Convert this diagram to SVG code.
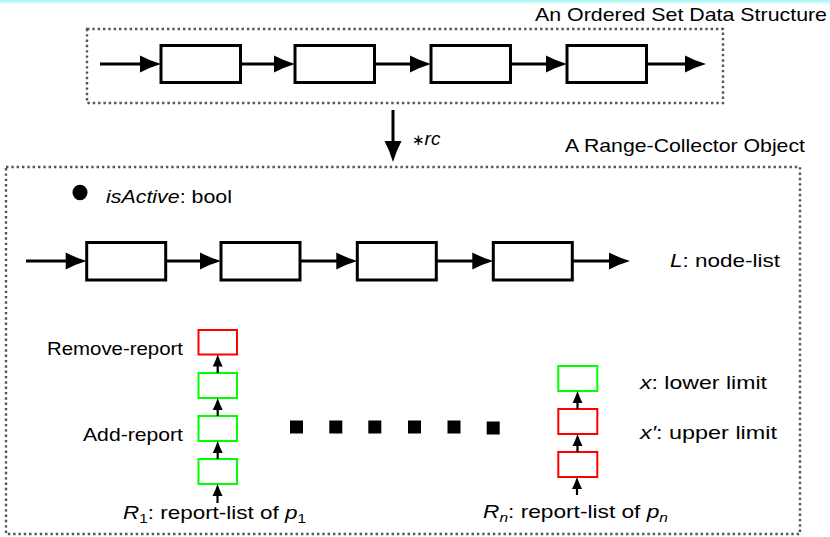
<svg xmlns="http://www.w3.org/2000/svg" width="830" height="537" viewBox="0 0 830 537">
<defs>
  <linearGradient id="band" x1="0" y1="0" x2="0" y2="1">
    <stop offset="0" stop-color="#a6f2f2"/>
    <stop offset="1" stop-color="#ffffff"/>
  </linearGradient>
  <marker id="big" markerUnits="userSpaceOnUse" viewBox="-23 -10 24 20" markerWidth="24" markerHeight="20" refX="-9" refY="0" orient="auto">
    <path d="M0,0 Q-11,-3.2 -21,-8.5 L-21,8.5 Q-11,3.2 0,0Z" fill="#000"/>
  </marker>
  <marker id="small" markerUnits="userSpaceOnUse" viewBox="-13 -6 14 12" markerWidth="14" markerHeight="12" refX="-5" refY="0" orient="auto">
    <path d="M0,0 Q-6,-2 -12,-5 L-12,5 Q-6,2 0,0Z" fill="#000"/>
  </marker>
</defs>
<style>
  text { font-family: "Liberation Sans", Arial, sans-serif; font-size: 19px; fill: #000; }
  .it { font-style: italic; }
  .sub { font-size: 13px; }
  .frame { fill: none; stroke: #555; stroke-width: 2.4; stroke-dasharray: 2.4 2.93; }
  .node { fill: #fff; stroke: #000; stroke-width: 3; }
  .rep-g { fill: #fff; stroke: #00ff00; stroke-width: 2; }
  .rep-r { fill: #fff; stroke: #ff0000; stroke-width: 2; }
  .link { fill: none; stroke: #000; stroke-width: 3; marker-end: url(#big); }
  .rlink { fill: none; stroke: #000; stroke-width: 2.2; marker-end: url(#small); }
</style>

<rect x="0" y="0" width="830" height="5" fill="url(#band)"/>

<!-- Ordered set data structure -->
<g id="ordered-set">
  <rect class="frame" x="87" y="29" width="636" height="74"/>
  <text x="535" y="21" textLength="292" lengthAdjust="spacingAndGlyphs">An Ordered Set Data Structure</text>
</g>
<g id="os-node1"><rect class="node" x="161" y="45.5" width="79.5" height="37"/></g>
<g id="os-node2"><rect class="node" x="295" y="45.5" width="79.5" height="37"/></g>
<g id="os-node3"><rect class="node" x="431" y="45.5" width="79.5" height="37"/></g>
<g id="os-node4"><rect class="node" x="567" y="45.5" width="79.5" height="37"/></g>

<!-- Range collector object -->
<g id="range-collector">
  <rect class="frame" x="6" y="167" width="794" height="367"/>
  <text x="565" y="152" textLength="240" lengthAdjust="spacingAndGlyphs">A Range-Collector Object</text>
</g>
<g id="is-active">
  <ellipse cx="80" cy="192.5" rx="7.5" ry="7.8" fill="#000"/>
  <text x="106" y="202.5" textLength="126" lengthAdjust="spacingAndGlyphs"><tspan class="it">isActive</tspan>:  bool</text>
</g>
<g id="rc-node1"><rect class="node" x="86.7" y="242.5" width="79" height="37.5"/></g>
<g id="rc-node2"><rect class="node" x="221" y="242.5" width="79" height="37.5"/></g>
<g id="rc-node3"><rect class="node" x="357.3" y="242.5" width="79" height="37.5"/></g>
<g id="rc-node4"><rect class="node" x="493.3" y="242.5" width="79" height="37.5"/></g>
<g id="node-list-label">
  <text x="670" y="267" textLength="110" lengthAdjust="spacingAndGlyphs"><tspan class="it">L</tspan>:  node-list</text>
</g>

<!-- Report list R1 -->
<g id="r1-remove"><rect class="rep-r" x="198.5" y="330" width="38.5" height="24.5"/></g>
<g id="r1-add2"><rect class="rep-g" x="198.5" y="373" width="38.5" height="25"/></g>
<g id="r1-add1"><rect class="rep-g" x="198.5" y="416" width="38.5" height="25"/></g>
<g id="r1-add0"><rect class="rep-g" x="198.5" y="459" width="38.5" height="25"/></g>
<g id="r1-labels">
  <text x="47" y="355" textLength="136" lengthAdjust="spacingAndGlyphs">Remove-report</text>
  <text x="83" y="441" textLength="100" lengthAdjust="spacingAndGlyphs">Add-report</text>
  <text x="123" y="519" textLength="183" lengthAdjust="spacingAndGlyphs"><tspan class="it">R</tspan><tspan class="sub" dy="4">1</tspan><tspan dy="-4">:  report-list of </tspan><tspan class="it">p</tspan><tspan class="sub" dy="4">1</tspan></text>
</g>

<!-- ellipsis -->
<g id="ellipsis" fill="#000">
  <rect x="290" y="420.5" width="13" height="13"/>
  <rect x="329.3" y="420.5" width="13" height="13"/>
  <rect x="368.3" y="420.5" width="13" height="13"/>
  <rect x="408" y="420.5" width="13" height="13"/>
  <rect x="447.5" y="420.5" width="13" height="13"/>
  <rect x="486.7" y="421.5" width="13" height="13"/>
</g>

<!-- Report list Rn -->
<g id="rn-lower"><rect class="rep-g" x="558.3" y="366" width="39" height="25"/></g>
<g id="rn-upper2"><rect class="rep-r" x="558.3" y="409" width="39" height="25"/></g>
<g id="rn-upper1"><rect class="rep-r" x="558.3" y="452" width="39" height="25"/></g>
<g id="rn-labels">
  <text x="640" y="388.5" textLength="127" lengthAdjust="spacingAndGlyphs"><tspan class="it">x</tspan>:  lower limit</text>
  <text x="640" y="438.5" textLength="137" lengthAdjust="spacingAndGlyphs"><tspan class="it">x′</tspan>:  upper limit</text>
  <text x="483" y="518" textLength="185" lengthAdjust="spacingAndGlyphs"><tspan class="it">R</tspan><tspan class="sub it" dy="4">n</tspan><tspan dy="-4">:  report-list of </tspan><tspan class="it">p</tspan><tspan class="sub it" dy="4">n</tspan></text>
</g>

<!-- rc pointer label -->
<g id="rc-label">
  <text x="412" y="145"><tspan font-family="DejaVu Sans, sans-serif" font-size="15">∗</tspan><tspan class="it">rc</tspan></text>
</g>

<!-- connectors -->
<g id="connectors">
  <path class="link" d="M100,64 H152"/>
  <path class="link" d="M240.5,64 H286"/>
  <path class="link" d="M374.5,64 H422"/>
  <path class="link" d="M510.5,64 H558"/>
  <path class="link" d="M646.5,64 H697"/>

  <path class="link" d="M393,110 V153"/>

  <path class="link" d="M26,261 H77.7"/>
  <path class="link" d="M165.7,261 H212"/>
  <path class="link" d="M300,261 H348.3"/>
  <path class="link" d="M436.3,261 H484.3"/>
  <path class="link" d="M572.3,261 H621"/>

  <path class="rlink" d="M217.7,373 V359.5"/>
  <path class="rlink" d="M217.7,416 V403"/>
  <path class="rlink" d="M217.7,459 V446"/>
  <path class="rlink" d="M217.5,503 V489"/>

  <path class="rlink" d="M577.5,409 V396"/>
  <path class="rlink" d="M577.5,452 V439"/>
  <path class="rlink" d="M577,495 V482"/>
</g>
</svg>
